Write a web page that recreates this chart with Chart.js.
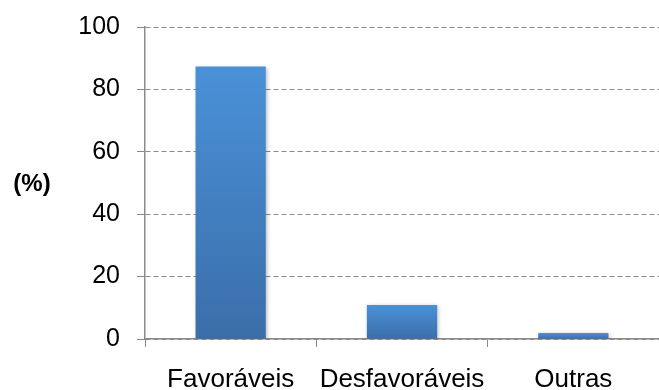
<!DOCTYPE html>
<html>
<head>
<meta charset="utf-8">
<script src="https://cdn.jsdelivr.net/npm/chart.js@4/dist/chart.umd.min.js"></script>
<style>
  html, body { margin: 0; padding: 0; background: #fff; }
  #wrap { width: 659px; height: 390px; position: relative; }
</style>
</head>
<body>
<div id="wrap"><canvas id="opinioesChart"></canvas></div>
<script>
const categorias = ["Favoráveis", "Desfavoráveis", "Outras"];
const percentuais = [87.3, 10.9, 1.9];
const yTicks = [0, 20, 40, 60, 80, 100];
const yTitulo = "(%)";

const FONT = "'Liberation Sans', Arial, sans-serif";
const GRID_GRAY = "#8a8a8a";

// vertical gradient per bar, lighter at the top
function barGradient(context) {
  const chart = context.chart;
  if (!chart.chartArea) return "#4a8fd6";
  const y = chart.scales.y;
  const top = y.getPixelForValue(context.raw);
  const bottom = y.getPixelForValue(0);
  const g = chart.ctx.createLinearGradient(0, top, 0, bottom);
  g.addColorStop(0, "#4a91d8");
  g.addColorStop(1, "#3a6ea9");
  return g;
}

// soft drop shadow under the bars
const barShadow = {
  id: "barShadow",
  beforeDatasetsDraw(chart) {
    const ctx = chart.ctx;
    ctx.save();
    ctx.shadowColor = "rgba(0,0,0,0.28)";
    ctx.shadowBlur = 4;
    ctx.shadowOffsetX = 1;
    ctx.shadowOffsetY = 1;
  },
  afterDatasetsDraw(chart) {
    chart.ctx.restore();
  },
};

// horizontal "(%)" label left of the y axis
const yTitle = {
  id: "yTitle",
  afterDraw(chart) {
    const { ctx, chartArea } = chart;
    ctx.save();
    ctx.font = "bold 24px " + FONT;
    ctx.fillStyle = "#000";
    ctx.textAlign = "center";
    ctx.textBaseline = "middle";
    ctx.fillText(yTitulo, chartArea.left - 113, (chartArea.top + chartArea.bottom) / 2 + 1);
    ctx.restore();
  },
};

function initializeChart() {
  const ctx = document.getElementById("opinioesChart").getContext("2d");
  new Chart(ctx, {
    type: "bar",
    data: {
      labels: categorias,
      datasets: [
        {
          data: percentuais,
          backgroundColor: barGradient,
          borderWidth: 0,
          categoryPercentage: 1,
          barPercentage: 0.41,
        },
      ],
    },
    options: {
      responsive: true,
      maintainAspectRatio: false,
      animation: false,
      layout: { padding: { top: 27, right: 0, left: 0, bottom: 0 } },
      scales: {
        x: {
          grid: {
            offset: true,
            drawOnChartArea: false,
            drawTicks: true,
            tickLength: 8,
            color: GRID_GRAY,
          },
          border: { color: GRID_GRAY, width: 1.5 },
          ticks: {
            color: "#000",
            font: { family: FONT, size: 26 },
            padding: 17,
            maxRotation: 0,
            autoSkip: false,
          },
          afterFit(scale) {
            scale.height = 51;
            scale.paddingLeft = 0;
            scale.paddingRight = 0;
          },
        },
        y: {
          min: 0,
          max: 100,
          afterBuildTicks(scale) {
            scale.ticks = yTicks.map((v) => ({ value: v }));
          },
          grid: {
            color: GRID_GRAY,
            tickLength: 8,
            lineWidth: 1,
          },
          border: { color: GRID_GRAY, width: 1.5, dash: [5, 3] },
          ticks: {
            color: "#000",
            font: { family: FONT, size: 25 },
            padding: 17,
          },
          afterFit(scale) {
            scale.width = 145;
            scale.paddingTop = 0;
            scale.paddingBottom = 0;
          },
        },
      },
      plugins: {
        legend: { display: false },
        tooltip: { enabled: false },
      },
    },
    plugins: [barShadow, yTitle],
  });
}

if (document.readyState === "loading") {
  document.addEventListener("DOMContentLoaded", initializeChart);
} else {
  initializeChart();
}
</script>
</body>
</html>
